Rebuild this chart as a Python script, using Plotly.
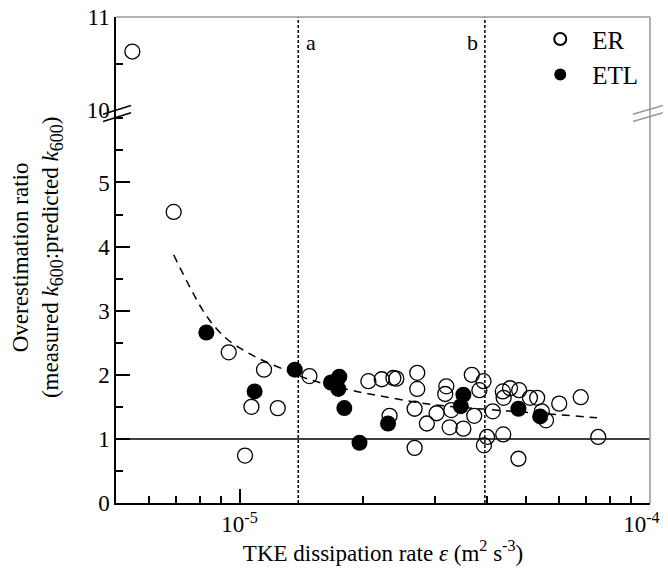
import math
import plotly.graph_objects as go

# ---- data ----
er_x = [5.48e-6, 6.91e-6, 9.41e-6, 1.147e-5, 1.069e-5, 1.239e-5, 1.031e-5, 1.48e-5,
        2.06e-5, 2.22e-5, 2.37e-5, 2.41e-5, 2.32e-5, 2.71e-5, 2.71e-5, 2.67e-5, 2.67e-5,
        2.86e-5, 3.02e-5, 3.19e-5, 3.17e-5, 3.28e-5, 3.25e-5, 3.51e-5, 3.68e-5, 3.73e-5,
        3.93e-5, 3.84e-5, 3.94e-5, 4.01e-5, 4.14e-5, 4.38e-5, 4.40e-5, 4.39e-5, 4.56e-5,
        4.78e-5, 4.80e-5, 5.10e-5, 5.31e-5, 5.45e-5, 5.58e-5, 6.01e-5, 6.78e-5, 7.48e-5]
er_y = [10.63, 4.54, 2.35, 2.08, 1.50, 1.48, 0.74, 1.98,
        1.90, 1.93, 1.95, 1.94, 1.36, 2.03, 1.78, 1.47, 0.86,
        1.24, 1.40, 1.82, 1.70, 1.45, 1.18, 1.16, 2.00, 1.36,
        1.90, 1.76, 0.90, 1.03, 1.43, 1.74, 1.64, 1.07, 1.79,
        0.69, 1.76, 1.64, 1.64, 1.43, 1.29, 1.55, 1.65, 1.03]

etl_x = [8.30e-6, 1.088e-5, 1.363e-5, 1.67e-5, 1.75e-5, 1.74e-5, 1.80e-5, 1.96e-5,
         2.30e-5, 3.51e-5, 3.46e-5, 4.78e-5, 5.40e-5]
etl_y = [2.66, 1.74, 2.08, 1.88, 1.97, 1.78, 1.48, 0.94,
         1.24, 1.69, 1.51, 1.47, 1.35]

fit_x = [6.91e-6, 7.55e-6, 8.13e-6, 8.70e-6, 9.35e-6, 1.018e-5, 1.10e-5, 1.31e-5,
         1.507e-5, 1.93e-5, 2.20e-5, 2.91e-5, 4.01e-5, 5.93e-5, 7.43e-5]
fit_y = [3.87, 3.38, 3.01, 2.75, 2.55, 2.39, 2.27, 2.06,
         1.91, 1.74, 1.67, 1.54, 1.46, 1.38, 1.33]

ref_lines_x = [1.39e-5, 3.96e-5]
ref_labels = ["a", "b"]
unity = 1.0

lower_range = [0, 6.13]
upper_range = [10, 11.002]
lower_ticks = [0, 1, 2, 3, 4, 5]
upper_ticks = [10, 11]
x_ticks = [1e-5, 1e-4]
x_ticktext = ["10<sup>-5</sup>", "10<sup>-4</sup>&nbsp;&nbsp;&nbsp;"]
x_minor = [6e-6, 7e-6, 8e-6, 9e-6, 2e-5, 3e-5, 4e-5, 5e-5, 6e-5, 7e-5, 8e-5, 9e-5]

FONT = "Liberation Serif"
BREAK = 0.8086

er_lo = [(x, y) for x, y in zip(er_x, er_y) if y < 10]
er_hi = [(x, y) for x, y in zip(er_x, er_y) if y >= 10]

fig = go.Figure()

fig.add_trace(go.Scatter(
    x=fit_x, y=fit_y, mode="lines", line=dict(color="black", width=1.5, dash="8px,6px", shape="spline"),
    showlegend=False, hoverinfo="skip", xaxis="x", yaxis="y"))

open_marker = dict(symbol="circle-open", size=15, color="black", line=dict(width=1.3))
fig.add_trace(go.Scatter(
    x=[p[0] for p in er_lo], y=[p[1] for p in er_lo], mode="markers", name="ER",
    marker=open_marker, xaxis="x", yaxis="y", legendgroup="er"))
fig.add_trace(go.Scatter(
    x=[p[0] for p in er_hi], y=[p[1] for p in er_hi], mode="markers", name="ER",
    marker=open_marker, xaxis="x", yaxis="y2", showlegend=False, legendgroup="er"))
fig.add_trace(go.Scatter(
    x=etl_x, y=etl_y, mode="markers", name="ETL",
    marker=dict(symbol="circle", size=16, color="black"),
    xaxis="x", yaxis="y", legendgroup="etl"))

shapes = []
shapes.append(dict(type="line", xref="paper", yref="y", x0=0, x1=1, y0=unity, y1=unity,
                   line=dict(color="black", width=1.5)))
for xv in ref_lines_x:
    shapes.append(dict(type="line", xref="x", yref="paper", x0=xv, x1=xv, y0=0, y1=1,
                       line=dict(color="black", width=1.5, dash="3px,2px")))
shapes.append(dict(type="line", xref="paper", yref="paper", x0=0, x1=1, y0=1, y1=1,
                   line=dict(color="#999999", width=1.5)))
shapes.append(dict(type="line", xref="paper", yref="paper", x0=1, x1=1, y0=0, y1=1,
                   line=dict(color="#999999", width=1.5)))
for dy in (0.0, -0.015):
    shapes.append(dict(type="line", xref="paper", yref="paper",
                       x0=-0.0243, x1=0.0281, y0=0.800 + dy, y1=0.818 + dy,
                       line=dict(color="black", width=1.5)))
    shapes.append(dict(type="line", xref="paper", yref="paper",
                       x0=0.968, x1=1.024, y0=0.800 + dy, y1=0.818 + dy,
                       line=dict(color="#999999", width=1.5)))

sub = '<sub><span style="font-size:18px">600</span></sub>'
annotations = [
    dict(text="Overestimation ratio<br>(measured <i>k</i>" + sub + ":predicted <i>k</i>" + sub + ")",
         xref="paper", yref="paper", x=-0.147, y=0.505, textangle=-90, showarrow=False,
         xanchor="center", yanchor="middle", font=dict(family=FONT, size=23, color="black")),
    dict(text=ref_labels[0], xref="x", yref="paper", x=math.log10(ref_lines_x[0]), y=0.977,
         xanchor="left", xshift=6, showarrow=False, font=dict(family=FONT, size=22, color="black")),
    dict(text=ref_labels[1], xref="x", yref="paper", x=math.log10(ref_lines_x[1]), y=0.977,
         xanchor="right", xshift=-5, showarrow=False, font=dict(family=FONT, size=22, color="black")),
]

fig.update_layout(
    width=668, height=577,
    margin=dict(l=116, r=18, t=17, b=74, autoexpand=False),
    paper_bgcolor="white", plot_bgcolor="white",
    font=dict(family=FONT, size=23, color="black"),
    shapes=shapes, annotations=annotations,
    legend=dict(x=0.772, y=1.0015, xanchor="left", yanchor="top", bgcolor="rgba(0,0,0,0)",
                font=dict(family=FONT, size=25, color="black"), tracegroupgap=0,
                itemsizing="constant", itemwidth=54),
    xaxis=dict(type="log", range=[-5.30103, -4], tickvals=x_ticks, ticktext=x_ticktext,
               ticks="inside", ticklen=14, tickwidth=1.5, tickcolor="black", automargin=False,
               ticklabeloverflow="allow", ticklabelstandoff=0,
               showline=True, linecolor="black", linewidth=1.5, showgrid=False, zeroline=False,
               minor=dict(tickmode="array", tickvals=x_minor, ticks="inside", ticklen=7,
                          tickwidth=1.5, tickcolor="black", showgrid=False),
               title=dict(text="TKE dissipation rate <i>ε</i> (m<sup>2</sup> s<sup>-3</sup>)",
                          standoff=8, font=dict(family=FONT, size=23)),
               anchor="y", domain=[0, 1]),
    yaxis=dict(range=lower_range, tickvals=lower_ticks, domain=[0, BREAK], automargin=False,
               ticks="inside", ticklen=14, tickwidth=1.5, tickcolor="black",
               showline=True, linecolor="black", linewidth=1.5, showgrid=False, zeroline=False,
               minor=dict(dtick=0.5, tick0=0, ticks="inside", ticklen=7, tickwidth=1.5,
                          tickcolor="black", showgrid=False),
               anchor="x"),
    yaxis2=dict(range=upper_range, tickvals=upper_ticks, domain=[BREAK, 1], automargin=False,
                ticklabeloverflow="allow",
                ticks="inside", ticklen=14, tickwidth=1.5, tickcolor="rgba(0,0,0,0)",
                showline=True, linecolor="black", linewidth=1.5, showgrid=False, zeroline=False,
                minor=dict(tickmode="array", tickvals=[10.5], ticks="inside", ticklen=7,
                           tickwidth=1.5, tickcolor="black", showgrid=False),
                anchor="x"),
)

fig.write_html("out.html", config={"displayModeBar": False},
               post_script="document.body.style.margin='0';document.body.style.overflow='hidden';")
